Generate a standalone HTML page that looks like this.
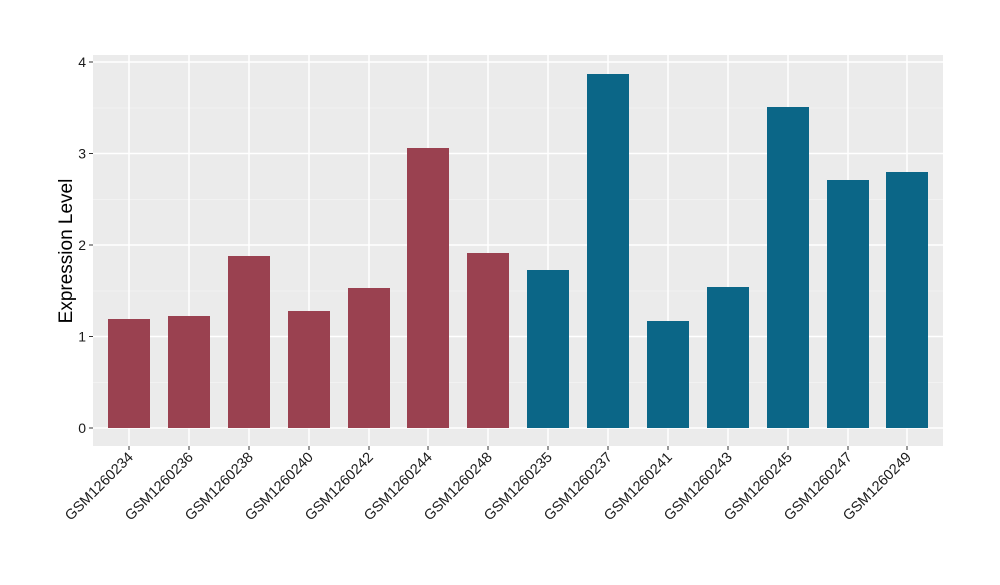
<!DOCTYPE html><html><head><style>body{margin:0;background:#fff}svg text{font-family:"Liberation Sans",Arial,sans-serif}</style></head><body>
<svg width="1000" height="580" xmlns="http://www.w3.org/2000/svg">
<rect x="93" y="55" width="850" height="391" fill="#ebebeb"/>
<g stroke="#f5f5f5" stroke-width="0.8">
<line x1="93" x2="943" y1="382.5" y2="382.5"/><line x1="93" x2="943" y1="291" y2="291"/><line x1="93" x2="943" y1="199.5" y2="199.5"/><line x1="93" x2="943" y1="108" y2="108"/>
</g>
<g stroke="#fff" stroke-width="1.5">
<line x1="93" x2="943" y1="428" y2="428"/><line x1="93" x2="943" y1="336.5" y2="336.5"/><line x1="93" x2="943" y1="245" y2="245"/><line x1="93" x2="943" y1="153.5" y2="153.5"/><line x1="93" x2="943" y1="62" y2="62"/>
<line x1="129" x2="129" y1="55" y2="446"/><line x1="189" x2="189" y1="55" y2="446"/><line x1="249" x2="249" y1="55" y2="446"/><line x1="309" x2="309" y1="55" y2="446"/><line x1="369" x2="369" y1="55" y2="446"/><line x1="428" x2="428" y1="55" y2="446"/><line x1="488" x2="488" y1="55" y2="446"/><line x1="548" x2="548" y1="55" y2="446"/><line x1="608" x2="608" y1="55" y2="446"/><line x1="668" x2="668" y1="55" y2="446"/><line x1="728" x2="728" y1="55" y2="446"/><line x1="788" x2="788" y1="55" y2="446"/><line x1="848" x2="848" y1="55" y2="446"/><line x1="907" x2="907" y1="55" y2="446"/>
</g>
<g fill="#9a4150">
<rect x="108" y="319" width="42" height="109"/><rect x="168" y="316" width="42" height="112"/><rect x="228" y="256" width="42" height="172"/><rect x="288" y="311" width="42" height="117"/><rect x="348" y="288" width="42" height="140"/><rect x="407" y="148" width="42" height="280"/><rect x="467" y="253" width="42" height="175"/>
</g>
<g fill="#0b6687">
<rect x="527" y="270" width="42" height="158"/><rect x="587" y="74" width="42" height="354"/><rect x="647" y="321" width="42" height="107"/><rect x="707" y="287" width="42" height="141"/><rect x="767" y="107" width="42" height="321"/><rect x="827" y="180" width="42" height="248"/><rect x="886" y="172" width="42" height="256"/>
</g>
<g stroke="#333" stroke-width="1">
<line x1="89" x2="93" y1="428" y2="428"/><line x1="89" x2="93" y1="336.5" y2="336.5"/><line x1="89" x2="93" y1="245" y2="245"/><line x1="89" x2="93" y1="153.5" y2="153.5"/><line x1="89" x2="93" y1="62" y2="62"/>
<line x1="129" x2="129" y1="446" y2="450"/><line x1="189" x2="189" y1="446" y2="450"/><line x1="249" x2="249" y1="446" y2="450"/><line x1="309" x2="309" y1="446" y2="450"/><line x1="369" x2="369" y1="446" y2="450"/><line x1="428" x2="428" y1="446" y2="450"/><line x1="488" x2="488" y1="446" y2="450"/><line x1="548" x2="548" y1="446" y2="450"/><line x1="608" x2="608" y1="446" y2="450"/><line x1="668" x2="668" y1="446" y2="450"/><line x1="728" x2="728" y1="446" y2="450"/><line x1="788" x2="788" y1="446" y2="450"/><line x1="848" x2="848" y1="446" y2="450"/><line x1="907" x2="907" y1="446" y2="450"/>
</g>
<g font-size="14" fill="#1a1a1a" text-anchor="end">
<text x="86" y="433">0</text><text x="86" y="341.5">1</text><text x="86" y="250">2</text><text x="86" y="158.5">3</text><text x="86" y="67">4</text>
</g>
<g font-size="14.5" fill="#1a1a1a" text-anchor="end">
<text transform="translate(134,458) rotate(-45)">GSM1260234</text>
<text transform="translate(194,458) rotate(-45)">GSM1260236</text>
<text transform="translate(254,458) rotate(-45)">GSM1260238</text>
<text transform="translate(314,458) rotate(-45)">GSM1260240</text>
<text transform="translate(374,458) rotate(-45)">GSM1260242</text>
<text transform="translate(433,458) rotate(-45)">GSM1260244</text>
<text transform="translate(493,458) rotate(-45)">GSM1260248</text>
<text transform="translate(553,458) rotate(-45)">GSM1260235</text>
<text transform="translate(613,458) rotate(-45)">GSM1260237</text>
<text transform="translate(673,458) rotate(-45)">GSM1260241</text>
<text transform="translate(733,458) rotate(-45)">GSM1260243</text>
<text transform="translate(793,458) rotate(-45)">GSM1260245</text>
<text transform="translate(853,458) rotate(-45)">GSM1260247</text>
<text transform="translate(912,458) rotate(-45)">GSM1260249</text>
</g>
<text transform="translate(72,251) rotate(-90)" text-anchor="middle" font-size="19" fill="#000">Expression Level</text>
</svg>
</body></html>
